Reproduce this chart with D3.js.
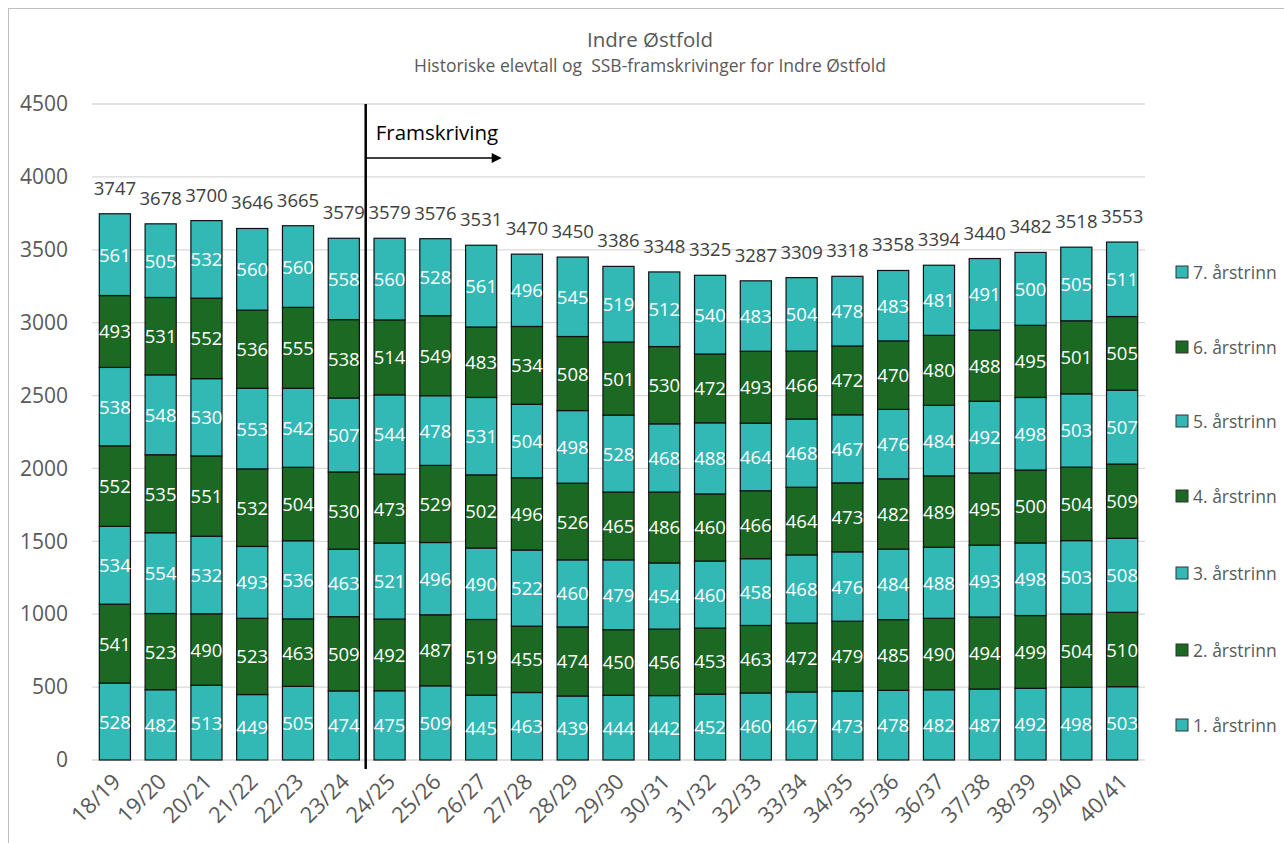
<!DOCTYPE html>
<html><head><meta charset="utf-8">
<script src="https://cdn.jsdelivr.net/npm/d3@7"></script>
<style>body{margin:0;background:#fff}svg{display:block}text{font-family:"Open Sans","Liberation Sans",sans-serif}</style>
</head><body><svg id="c" width="1284" height="843"></svg>
<script>
const categories=["18/19","19/20","20/21","21/22","22/23","23/24","24/25","25/26","26/27","27/28","28/29","29/30","30/31","31/32","32/33","33/34","34/35","35/36","36/37","37/38","38/39","39/40","40/41"];
const seriesNames=["1. årstrinn","2. årstrinn","3. årstrinn","4. årstrinn","5. årstrinn","6. årstrinn","7. årstrinn"];
const trinn1=[528,482,513,449,505,474,475,509,445,463,439,444,442,452,460,467,473,478,482,487,492,498,503];
const trinn2=[541,523,490,523,463,509,492,487,519,455,474,450,456,453,463,472,479,485,490,494,499,504,510];
const trinn3=[534,554,532,493,536,463,521,496,490,522,460,479,454,460,458,468,476,484,488,493,498,503,508];
const trinn4=[552,535,551,532,504,530,473,529,502,496,526,465,486,460,466,464,473,482,489,495,500,504,509];
const trinn5=[538,548,530,553,542,507,544,478,531,504,498,528,468,488,464,468,467,476,484,492,498,503,507];
const trinn6=[493,531,552,536,555,538,514,549,483,534,508,501,530,472,493,466,472,470,480,488,495,501,505];
const trinn7=[561,505,532,560,560,558,560,528,561,496,545,519,512,540,483,504,478,483,481,491,500,505,511];
const totals=[3747,3678,3700,3646,3665,3579,3579,3576,3531,3470,3450,3386,3348,3325,3287,3309,3318,3358,3394,3440,3482,3518,3553];
const yTicks=[0,500,1000,1500,2000,2500,3000,3500,4000,4500];
const projectionStart="24/25";
const projectionLabel="Framskriving";
const title="Indre Østfold";
const subtitle="Historiske elevtall og  SSB-framskrivinger for Indre Østfold";

const allSeries=[trinn1,trinn2,trinn3,trinn4,trinn5,trinn6,trinn7];
const colors=["#32b8b5","#1b6923","#32b8b5","#1b6923","#32b8b5","#1b6923","#32b8b5"];
const svg=d3.select("#c");
const pLeft=92,pRight=1145,pTop=104,pBottom=760;

svg.append("rect").attr("x",8.5).attr("y",8.5).attr("width",1290).attr("height",850).attr("fill","none").attr("stroke","#bfbfbf");

const x=d3.scaleBand().domain(categories).range([pLeft,pRight]).paddingInner(0.32).paddingOuter(0.16);
const y=d3.scaleLinear().domain([0,4500]).range([pBottom,pTop]);

svg.append("text").attr("x",650).attr("y",47).attr("text-anchor","middle").attr("font-size",20.5).attr("fill","#595959").text(title);
svg.append("text").attr("x",650).attr("y",72).attr("text-anchor","middle").attr("font-size",17.5).attr("fill","#595959").style("white-space","pre").text(subtitle);

svg.append("g").selectAll("line").data(yTicks).join("line")
 .attr("x1",pLeft).attr("x2",pRight).attr("y1",d=>y(d)).attr("y2",d=>y(d))
 .attr("stroke","#d9d9d9").attr("stroke-width",1.3);

const ya=svg.append("g").attr("transform",`translate(${pLeft},0)`)
 .call(d3.axisLeft(y).tickValues(yTicks).tickSize(0).tickPadding(24).tickFormat(d3.format("d")));
ya.select(".domain").remove();
ya.selectAll("text").attr("font-size",21).attr("fill","#595959").style("font-family","'Open Sans',sans-serif");

const data=categories.map((c,i)=>{const o={cat:c};seriesNames.forEach((s,j)=>o[s]=allSeries[j][i]);return o;});
const stack=d3.stack().keys(seriesNames)(data);

const g=svg.append("g");
stack.forEach((layer,j)=>{
  const lg=g.append("g");
  lg.selectAll("rect").data(layer).join("rect")
   .attr("x",d=>x(d.data.cat)).attr("width",x.bandwidth())
   .attr("y",d=>y(d[1])).attr("height",d=>y(d[0])-y(d[1]))
   .attr("fill",colors[j]).attr("stroke","#111").attr("stroke-width",1.2);
  lg.selectAll("text").data(layer).join("text")
   .attr("x",d=>x(d.data.cat)+x.bandwidth()/2).attr("y",d=>(y(d[0])+y(d[1]))/2+7)
   .attr("text-anchor","middle").attr("font-size",18.5).attr("fill","#fff")
   .text(d=>d[1]-d[0]);
});

svg.append("g").selectAll("text").data(categories).join("text")
 .attr("x",d=>x(d)+x.bandwidth()/2).attr("y",(d,i)=>y(d3.sum(allSeries,s=>s[i]))-19)
 .attr("text-anchor","middle").attr("font-size",18.5).attr("fill","#404040")
 .text((d,i)=>totals[i]);

svg.append("g").selectAll("text").data(categories).join("text")
 .attr("transform",d=>`translate(${x(d)+x.bandwidth()/2+7},${pBottom+23}) rotate(-45)`)
 .attr("text-anchor","end").attr("font-size",22).attr("fill","#595959").text(d=>d);

const px=x(projectionStart)-x.step()*x.paddingInner()/2-1;
svg.append("line").attr("x1",px).attr("x2",px).attr("y1",pTop).attr("y2",pBottom+9).attr("stroke","#000").attr("stroke-width",2.5);
svg.append("text").attr("x",px+10).attr("y",140).attr("font-size",20.5).attr("fill","#000").text(projectionLabel);
svg.append("line").attr("x1",px).attr("x2",px+130).attr("y1",158).attr("y2",158).attr("stroke","#000").attr("stroke-width",1.5);
svg.append("path").attr("d",`M${px+136},158 L${px+126},153 L${px+126},163 Z`).attr("fill","#000");

const legY=[725,650,573,496,421,347,272];
const leg=svg.append("g");
seriesNames.forEach((s,j)=>{
  leg.append("rect").attr("x",1176).attr("y",legY[j]-6).attr("width",12).attr("height",12).attr("fill",colors[j]).attr("stroke","#333").attr("stroke-width",1);
  leg.append("text").attr("x",1193).attr("y",legY[j]+6.5).attr("font-size",17.5).attr("fill","#595959").text(s);
});
</script></body></html>
